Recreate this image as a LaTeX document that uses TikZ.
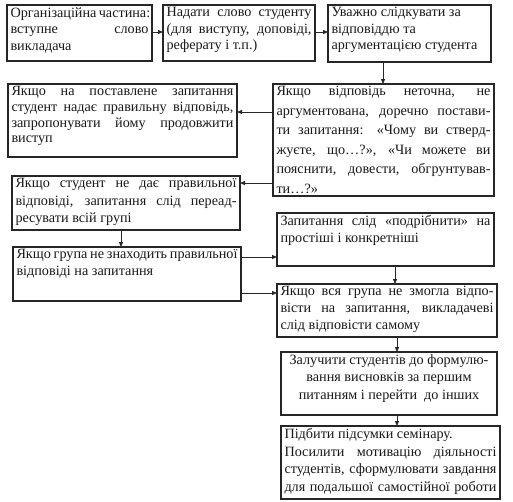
\documentclass[tikz,border=0pt]{standalone}
\usepackage{fontspec}
\setmainfont{Liberation Serif}
\usetikzlibrary{arrows.meta}
\newcommand\lineJ[1]{\noindent\makebox[\hsize][s]{#1}\par}
\newcommand\lineL[1]{\noindent #1\par}
\newcommand\lineC[1]{\noindent\hbox to\hsize{\hfil #1\hfil}\par}
% name x y w h baselineskip content
\newcommand\bx[7]{%
  \node[box, anchor=north west] (#1) at (#2,#3)
  {\vbox to #5pt{\hsize=\dimexpr#4pt-7pt\relax\linewidth=\hsize\parindent=0pt\parskip=0pt
   \fontsize{14.2}{#6}\selectfont\vskip 2.5pt #7\vfil}};}
\begin{document}
\begin{tikzpicture}[x=1pt,y=-1pt,
  box/.style={draw=black!85, line width=1.1pt, inner xsep=3.5pt, inner ysep=0pt, outer sep=0pt, text=black!90},
  arr/.style={draw=black!85, line width=0.8pt, -{Triangle[length=5pt,width=4pt]}}]
\useasboundingbox (0,0) rectangle (513,501);
\fill[white] (0,0) rectangle (513,501);
\bx{b1}{7}{5}{145}{56}{16.5}{%
  \lineL{Організаційна частина:}
  \lineJ{вступне слово}
  \lineL{викладача}}
\bx{b2}{163}{5}{152}{56}{16.5}{%
  \lineJ{Надати слово студенту}
  \lineJ{(для виступу, доповіді,}
  \lineL{реферату і т.п.)}}
\bx{b3}{328}{5}{163}{57}{16.5}{%
  \lineL{Уважно слідкувати за}
  \lineL{відповіддю та}
  \lineL{аргументацією студента}}
\bx{b4}{273}{84}{221}{112}{19.5}{%
  \lineJ{Якщо відповідь неточна, не}
  \lineJ{аргументована, доречно постави-}
  \lineJ{ти запитання: «Чому ви стверд-}
  \lineJ{жуєте, що…?», «Чи можете ви}
  \lineJ{пояснити, довести, обгрунтував-}
  \lineL{ти…?»}}
\bx{b5}{8}{84}{229}{73}{15.7}{%
  \lineJ{Якщо на поставлене запитання}
  \lineJ{студент надає правильну відповідь,}
  \lineJ{запропонувати йому продовжити}
  \lineL{виступ}}
\bx{b6}{12}{176}{228}{54}{17.5}{%
  \lineJ{Якщо студент не дає правильної}
  \lineJ{відповіді, запитання слід переад-}
  \lineL{ресувати всій групі}}
\bx{b7}{13}{247}{228}{54}{17}{%
  \lineJ{Якщо група не знаходить правильної}
  \lineL{відповіді на запитання}}
\bx{b8}{277}{213}{217}{53}{17}{%
  \lineJ{Запитання слід «подрібнити» на}
  \lineL{простіші і конкретніші}}
\bx{b9}{277}{284}{220}{53}{17}{%
  \lineJ{Якщо вся група не змогла відпо-}
  \lineJ{вісти на запитання, викладачеві}
  \lineL{слід відповісти самому}}
\bx{b10}{281}{352}{216}{63}{17.5}{%
  \lineC{Залучити студентів до формулю-}
  \lineC{вання висновків за першим}
  \lineC{питанням і перейти\ \ до інших}}
\bx{b11}{281}{426}{219}{73}{17.5}{%
  \lineL{Підбити підсумки семінару.}
  \lineJ{Посилити мотивацію діяльності}
  \lineJ{студентів, сформулювати завдання}
  \lineJ{для подальшої самостійної роботи}}
% guide coordinates for connector positions
\coordinate (y12) at (0,32);
\coordinate (x34) at (383,0);
\coordinate (y45) at (0,112);
\coordinate (y46) at (0,183);
\coordinate (x67) at (121,0);
\coordinate (y78) at (0,257);
\coordinate (y79) at (0,293);
\coordinate (x89) at (395,0);
\coordinate (x910) at (397,0);
\draw[arr] (b1.east |- y12) -- (b2.west |- y12);
\draw[arr] (b2.east |- y12) -- (b3.west |- y12);
\draw[arr] (b3.south -| x34) -- (b4.north -| x34);
\draw[arr] (b4.west |- y45) -- (b5.east |- y45);
\draw[arr] (b4.west |- y46) -- (b6.east |- y46);
\draw[arr] (b6.south -| x67) -- (b7.north -| x67);
\draw[arr] (b7.east |- y78) -- (b8.west |- y78);
\draw[arr] (b7.east |- y79) -- (b9.west |- y79);
\draw[arr] (b8.south -| x89) -- (b9.north -| x89);
\draw[arr] (b9.south -| x910) -- (b10.north -| x910);
\draw[arr] (b10.south -| x910) -- (b11.north -| x910);
\end{tikzpicture}
\end{document}
